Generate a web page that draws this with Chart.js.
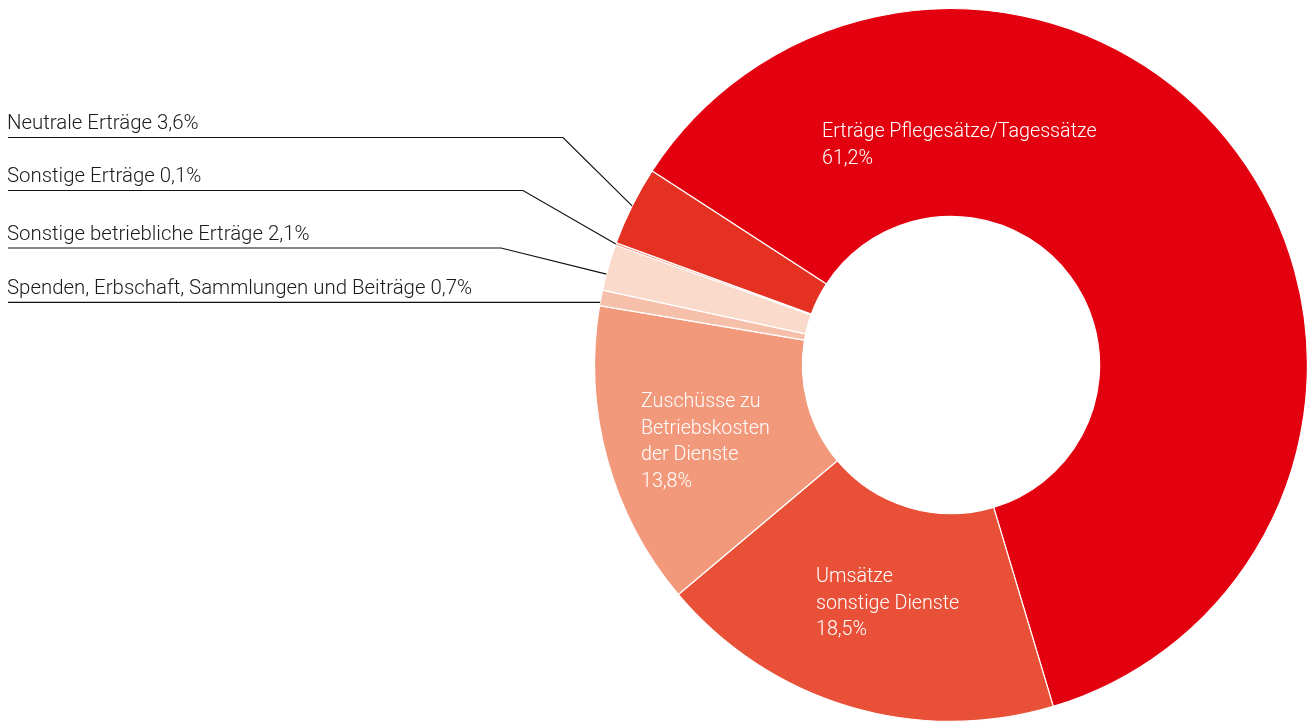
<!DOCTYPE html>
<html>
<head>
<meta charset="utf-8">
<script src="https://cdn.jsdelivr.net/npm/chart.js@4.4.1/dist/chart.umd.min.js"></script>
<style>
  html, body { margin: 0; padding: 0; background: #ffffff; }
  #wrap { width: 1310px; height: 722px; position: relative; }
</style>
</head>
<body>
<div id="wrap"><canvas id="c" width="1310" height="722"></canvas></div>
<script>
// ---- data ----
const categories = [
  "Erträge Pflegesätze/Tagessätze",
  "Umsätze sonstige Dienste",
  "Zuschüsse zu Betriebskosten der Dienste",
  "Spenden, Erbschaft, Sammlungen und Beiträge",
  "Sonstige betriebliche Erträge",
  "Sonstige Erträge",
  "Neutrale Erträge"
];
const shares = [61.2, 18.5, 13.8, 0.7, 2.1, 0.1, 3.6];
const valueLabels = ["61,2%", "18,5%", "13,8%", "0,7%", "2,1%", "0,1%", "3,6%"];
const colors = ["#E3000F", "#E95038", "#F2987B", "#F6BFA9", "#F9DACB", "#EE8264", "#E43122"];

// inside labels (multi-line) for the big slices
const insideLines = {
  0: ["Erträge Pflegesätze/Tagessätze", "61,2%"],
  1: ["Umsätze", "sonstige Dienste", "18,5%"],
  2: ["Zuschüsse zu", "Betriebskosten", "der Dienste", "13,8%"]
};
// outside labels with leader lines (slice indices, top to bottom)
const outsideOrder = [6, 5, 4, 3];

const FONT_IN = '300 19.7px Roboto, "Liberation Sans", Arial, sans-serif';
const FONT_OUT = '300 20.4px Roboto, "Liberation Sans", Arial, sans-serif';

const labelPlugin = {
  id: 'labels',
  afterDraw(chart) {
    const ctx = chart.ctx;
    const meta = chart.getDatasetMeta(0);
    const arc0 = meta.data[0];
    const cx = arc0.x, cy = arc0.y;
    ctx.save();
    ctx.textBaseline = 'alphabetic';
    ctx.textAlign = 'left';

    // inside labels, placed relative to the chart centre
    const inside = {
      0: { dx: -129, dy: -228 },
      1: { dx: -135, dy: 217 },
      2: { dx: -310, dy: 42 }
    };
    const lh = 26.5;
    ctx.font = FONT_IN;
    Object.keys(insideLines).forEach(k => {
      const p = inside[k];
      ctx.fillStyle = '#ffffff';
      insideLines[k].forEach((t, i) => {
        ctx.fillText(t, cx + p.dx, cy + p.dy + i * lh);
      });
    });

    // outside labels with leader lines
    const lineYs = [137.5, 190.5, 248, null];
    const bendXs = [563, 523, 501, null];
    const frac = [0.5, 0.5, 0.35, 0.2];
    ctx.font = FONT_OUT;
    ctx.strokeStyle = '#111111';
    ctx.lineWidth = 1.2;
    outsideOrder.forEach((idx, i) => {
      const a = meta.data[idx];
      const ang = a.startAngle + (a.endAngle - a.startAngle) * frac[i];
      const ex = a.x + Math.cos(ang) * a.outerRadius;
      const ey = a.y + Math.sin(ang) * a.outerRadius;
      const ly = lineYs[i] === null ? ey : lineYs[i];
      ctx.beginPath();
      ctx.moveTo(8, ly);
      if (bendXs[i] !== null) ctx.lineTo(bendXs[i], ly);
      ctx.lineTo(ex, ey);
      ctx.stroke();
      ctx.fillStyle = '#1a1a1a';
      ctx.fillText(categories[idx] + ' ' + valueLabels[idx], 7, ly - 8.5);
    });
    ctx.restore();
  }
};

new Chart(document.getElementById('c'), {
  type: 'doughnut',
  data: {
    labels: categories,
    datasets: [{
      data: shares,
      backgroundColor: colors,
      borderColor: '#ffffff',
      borderWidth: 1.2,
      hoverOffset: 0
    }]
  },
  options: {
    responsive: false,
    animation: false,
    rotation: -57,
    cutout: '41.7%',
    layout: { padding: { left: 594, right: 2, top: 8, bottom: 0 } },
    plugins: {
      legend: { display: false },
      tooltip: { enabled: false }
    }
  },
  plugins: [labelPlugin]
});
</script>
</body>
</html>
